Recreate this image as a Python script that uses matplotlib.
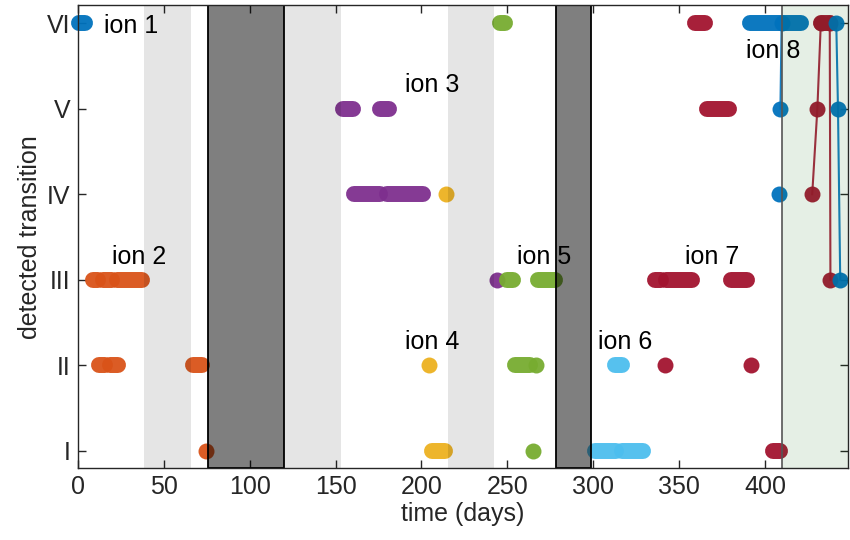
import matplotlib
matplotlib.use('Agg') # Без дисплея.
import matplotlib.pyplot as plt # График.

plt.rcParams['font.family'] = ['Liberation Sans', 'DejaVu Sans'] # Шрифт как Arial.

# Подписи уровней (ось Y).
levels = [1, 2, 3, 4, 5, 6]
level_labels = ['I', 'II', 'III', 'IV', 'V', 'VI']

# Серии измерений: (начало, конец) в днях для каждого уровня.
# Ион 1.
ion1_VI = [(0.5, 4.5)]

# Ион 2.
ion2_III = [(9, 12), (15, 20), (23, 37.4)]
ion2_II = [(12.5, 16), (19, 23.4), (67, 72.6)]
ion2_I = [(74.5, 74.5)]

# Ион 3.
ion3_V = [(154.3, 160), (176, 181)]
ion3_IV = [(161, 176), (180, 201)]
ion3_III = [(244, 244)]

# Ион 4.
ion4_IV = [(214.4, 214.4)]
ion4_II = [(204.4, 204.4)]
ion4_I = [(206, 213.4)]

# Ион 5.
ion5_VI = [(245.7, 248.4)]
ion5_III = [(249.5, 253), (267.6, 277.5)]
ion5_II = [(254.4, 263), (266.4, 266.4)]
ion5_I = [(265, 265)]

# Ион 6.
ion6_II = [(312.8, 316.4)]
ion6_I = [(300.7, 313), (316.5, 329)]

# Ион 7.
ion7_VI = [(359, 364.7), (432.3, 437.5)]
ion7_V = [(366, 378.7)]
ion7_III = [(335.7, 339.5), (342.5, 357.4), (380, 389.6)]
ion7_II = [(341.5, 341.5), (391.7, 391.7)]
ion7_I = [(404.5, 408.7)]
ion7_trace_t = [427.3, 430.3, 432.3] # Переходы в зеленой зоне.
ion7_trace_y = [4, 5, 6]
ion7_jump_t = [437.5, 437.9]
ion7_jump_y = [6, 3]

# Ион 8.
ion8_VI = [(391, 420.7)]
ion8_IV = [(407.9, 407.9)]
ion8_trace1_t = [408.8, 409.5]
ion8_trace1_y = [5, 6]
ion8_trace2_t = [441.3, 442.3, 443.6]
ion8_trace2_y = [6, 5, 3]

# Полосы на фоне.
light_bands = [(38.7, 66), (120, 153), (215.3, 242.3)]
dark_bands = [(75.7, 120), (278.5, 298.4)]
green_start = 409.8
x_max = 448

# Подписи ионов: (текст, x, y).
ion_labels = [('ion 1', 15.4, 5.88), ('ion 2', 20.2, 3.18), ('ion 3', 190.4, 5.19),
              ('ion 4', 190.4, 2.19), ('ion 5', 255.6, 3.18), ('ion 6', 302.8, 2.19),
              ('ion 7', 353.2, 3.18), ('ion 8', 388.8, 5.59)]

blue = '#0072BD'
orange = '#D95319'
yellow = '#EDB120'
purple = '#7E2F8E'
green = '#77AC30'
cyan = '#4DBEEE'
red = '#A2142F'

runs = [(blue, ion1_VI, 6),
        (orange, ion2_III, 3), (orange, ion2_II, 2), (orange, ion2_I, 1),
        (purple, ion3_V, 5), (purple, ion3_IV, 4), (purple, ion3_III, 3),
        (yellow, ion4_IV, 4), (yellow, ion4_II, 2), (yellow, ion4_I, 1),
        (green, ion5_VI, 6), (green, ion5_III, 3), (green, ion5_II, 2), (green, ion5_I, 1),
        (cyan, ion6_II, 2), (cyan, ion6_I, 1),
        (red, ion7_VI, 6), (red, ion7_V, 5), (red, ion7_III, 3), (red, ion7_II, 2), (red, ion7_I, 1),
        (blue, ion8_VI, 6), (blue, ion8_IV, 4)]

traces = [(red, ion7_trace_t, ion7_trace_y),
          (red, ion7_jump_t, ion7_jump_y),
          (blue, ion8_trace1_t, ion8_trace1_y),
          (blue, ion8_trace2_t, ion8_trace2_y)]

size = 11.5 # Диаметр точки, pt.
alpha = 0.95

fig = plt.figure(figsize=(8.5, 5.4), dpi=100)
ax = fig.add_axes([0.0914, 0.1333, 0.906, 0.857])

# Переходы с линиями (под точками).
for c, t, y in traces:
    ax.plot(t, y, '-', color=c, lw=1.5, alpha=0.9, zorder=2)

# Серии точек: капсулы.
for c, rr, lv in runs:
    for a, b in rr:
        if a == b:
            ax.plot([a], [lv], 'o', color=c, ms=size, mew=0, alpha=alpha, zorder=3,
                    clip_on=False)
        else:
            ax.plot([a, b], [lv, lv], '-', color=c, lw=size, solid_capstyle='round',
                    alpha=alpha, zorder=3, clip_on=False)

# Точки на концах переходов.
for c, t, y in traces:
    ax.plot(t, y, 'o', color=c, ms=size, mew=0, alpha=alpha, zorder=3, clip_on=False)

# Полупрозрачные полосы поверх точек.
for a, b in light_bands:
    ax.axvspan(a, b, facecolor=(0, 0, 0, 0.1), lw=0, zorder=4)
for a, b in dark_bands:
    ax.axvspan(a, b, facecolor=(0, 0, 0, 0.5), edgecolor='black', lw=1.3, zorder=4)
ax.axvspan(green_start, x_max, facecolor=(0, 0.39, 0, 0.1), edgecolor='none', zorder=4)
ax.axvline(green_start, color='#555555', lw=1.2, zorder=4)

for txt, x, y in ion_labels:
    ax.text(x, y, txt, fontsize=18, ha='left', va='baseline', zorder=5)

ax.set_xlim(0, x_max)
ax.set_ylim(0.8, 6.21)
ax.set_xticks([0, 50, 100, 150, 200, 250, 300, 350, 400])
ax.set_yticks(levels)
ax.set_yticklabels(level_labels)
ax.tick_params(direction='in', top=True, right=True, length=6, width=1,
               labelsize=18, colors='#262626', pad=5)
for s in ax.spines.values():
    s.set_color('#262626')
    s.set_linewidth(1)
    s.set_zorder(6)

ax.set_xlabel('time (days)', fontsize=18, color='#262626', labelpad=2)
ax.set_ylabel('detected transition', fontsize=18, color='#262626', labelpad=4)

fig.savefig('out.png', dpi=100)
